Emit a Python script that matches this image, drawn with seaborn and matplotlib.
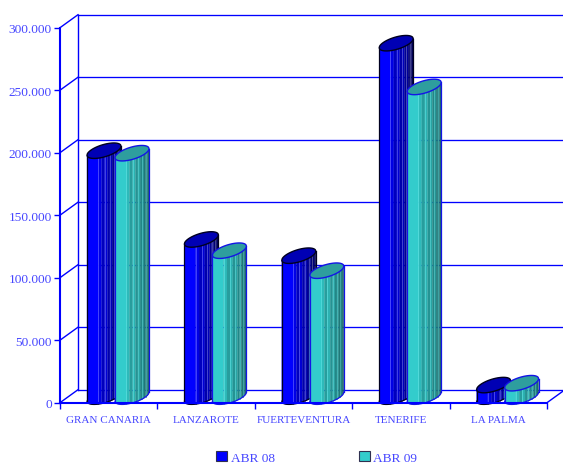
import numpy as np
import pandas as pd
import matplotlib
matplotlib.use("Agg")
import matplotlib.pyplot as plt
from matplotlib.patches import Patch
from matplotlib.ticker import FixedLocator
import seaborn as sns

categories = ["GRAN CANARIA", "LANZAROTE", "FUERTEVENTURA", "TENERIFE", "LA PALMA"]
abr_08 = [198000, 127000, 114000, 284000, 10500]
abr_09 = [196000, 118000, 102000, 249000, 12000]
series_names = ["ABR 08", "ABR 09"]
y_ticks = [0, 50000, 100000, 150000, 200000, 250000, 300000]
y_labels = ["0", "50.000", "100.000", "150.000", "200.000", "250.000", "300.000"]

W, H = 563, 464
BLUE = "#0000FF"
TEXT = "#4646FF"
FONT = "Liberation Serif"
plt.rcParams["font.family"] = [FONT, "DejaVu Serif"]

df = pd.DataFrame({
    "isla": categories * 2,
    "serie": [series_names[0]] * 5 + [series_names[1]] * 5,
    "valor": abr_08 + abr_09,
})

fig = plt.figure(figsize=(W / 100, H / 100), dpi=100, facecolor="white")
L, R, T, B = 60, 547, 28.7, 403.7
ax = fig.add_axes([L / W, 1 - B / H, (R - L) / W, (B - T) / H])
sns.barplot(data=df, x="isla", y="valor", hue="serie", hue_order=series_names,
            palette=["#0000FF", "#33CCCC"], width=0.575, legend=False, ax=ax)
ax.set_xlim(-0.5, 4.5)
ax.set_ylim(0, 300000)
ax.set_xlabel("")
ax.set_ylabel("")
for s in ax.spines.values():
    s.set_visible(False)

PX = 5 / (R - L)      # data-x per pixel
PY = 300000 / (B - T)  # data-y per pixel
DX, DY = 18 * PX, 13 * PY

# walls and floor
for v in y_ticks:
    ax.plot([-0.5 + DX, 4.5 + 2 * DX], [v + DY] * 2, color=BLUE, lw=0.95, zorder=1, clip_on=False)
    ax.plot([-0.5, -0.5 + DX], [v, v + DY], color=BLUE, lw=1.0, zorder=1, clip_on=False)
ax.plot([-0.5 + DX] * 2, [DY, 300000 + DY], color=BLUE, lw=1.0, zorder=1, clip_on=False)
ax.plot([4.5, 4.5 + DX], [0, DY], color=BLUE, lw=1.0, zorder=1, clip_on=False)


def mix(c, k):
    return tuple(np.clip(np.array(c) * k, 0, 1))


def cylinder(center, value, base, top_col, edge, light, dark, z):
    w = 34 * PX
    s = 9 * PY
    b = 6.3 * PY
    x0 = center - w / 2
    ty = value + 4.5 * PY   # ellipse centre, left end sits on the value
    by = 6 * PY

    def upper(u):
        c = 2 * u - 1
        return s / 2 * c + b * np.sqrt(np.maximum(1 - c ** 2, 0))

    def lower(u):
        c = 2 * u - 1
        return s / 2 * c - b * np.sqrt(np.maximum(1 - c ** 2, 0))

    edges = [0.0, 0.33]
    step = 0.1
    while edges[-1] + step < 1:
        edges.append(edges[-1] + step)
        step = max(step * 0.9, 0.05)
    edges.append(1.0)
    for i in range(len(edges) - 1):
        a, e = edges[i], edges[i + 1]
        uu = np.linspace(a, e, 6)
        t = (a + e) / 2
        if i == 0:
            col = base
        else:
            shade = 1 - (dark * t ** 3)
            col = mix(base, shade * (0.93 if i % 2 else 0.8))
        xs = x0 + uu * w
        ax.fill(np.r_[xs, xs[::-1]],
                np.r_[ty + s * (uu - 0.5), (by + lower(uu))[::-1]],
                color=col, lw=0.15, zorder=z, clip_on=False)
        if i % 2 == 1:
            lc = tuple(np.clip(np.array(col) + light, 0, 1))
            ue = np.array([a])
            ax.plot([x0 + a * w] * 2, [ty + s * (a - 0.5), by + lower(ue)[0]],
                    color=lc, lw=0.6, zorder=z + 0.05, clip_on=False)
    u = np.linspace(0, 1, 80)
    xs = x0 + u * w
    # outline of the body
    ax.plot(xs, by + lower(u), color=edge, lw=0.9, zorder=z + 0.1, clip_on=False)
    ax.plot([x0, x0], [ty - s / 2, by - s / 2], color=edge, lw=0.9, zorder=z + 0.1, clip_on=False)
    ax.plot([x0 + w] * 2, [ty + s / 2, by + s / 2], color=edge, lw=0.9, zorder=z + 0.1, clip_on=False)
    # top face
    ax.fill(np.r_[xs, xs[::-1]], np.r_[ty + upper(u), (ty + lower(u))[::-1]],
            facecolor=top_col, edgecolor=edge, lw=1.0, zorder=z + 0.2, clip_on=False)


SHIFT = 9.3 * PX
n = len(categories)
styles = [
    ((0, 0, 1.0), "#0000B4", "#000020", (0.3, 0.3, 0.1), 0.62),
    ((0.2, 0.8, 0.8), "#2E9E9E", "#1414E6", (0.14, 0.14, 0.14), 0.38),
]
for j, (cont, st) in enumerate(zip(ax.containers, styles)):
    for i, patch in enumerate(cont.patches):
        patch.set_visible(False)
        cylinder(patch.get_x() + patch.get_width() / 2 + SHIFT, patch.get_height(),
                 st[0], st[1], st[2], st[3], st[4], 3 + j)

# front axis lines
ax.plot([-0.5, 4.5], [0, 0], color=BLUE, lw=1.5, zorder=8, clip_on=False)
ax.plot([-0.5, -0.5], [0, 300000], color=BLUE, lw=1.5, zorder=8, clip_on=False)

ax.set_yticks(y_ticks)
ax.set_yticklabels(y_labels, fontsize=9.6, color=TEXT, family=FONT)
ax.tick_params(axis="y", length=4.5, width=1.0, color=BLUE, pad=1.5)
ax.set_xticks(range(n))
ax.set_xticklabels(categories, fontsize=8, color=TEXT, family=FONT)
ax.tick_params(axis="x", which="major", length=0, pad=8.5)
ax.xaxis.set_minor_locator(FixedLocator(np.arange(n + 1) - 0.5))
ax.tick_params(axis="x", which="minor", length=4, width=1.0, color=BLUE)

handles = [Patch(facecolor=c, edgecolor="#303050", lw=0.8, label=l)
           for c, l in zip(["#0000FF", "#33CCCC"], series_names)]
fig.legend(handles=handles, loc="center left", bbox_to_anchor=(216 / W, 1 - 458.3 / H), ncols=2,
           frameon=False, fontsize=9.6, labelcolor=TEXT, handlelength=0.85, handleheight=0.85,
           handletextpad=0.25, columnspacing=6.3, borderpad=0, borderaxespad=0)

fig.savefig("out.png", dpi=100, facecolor="white")
